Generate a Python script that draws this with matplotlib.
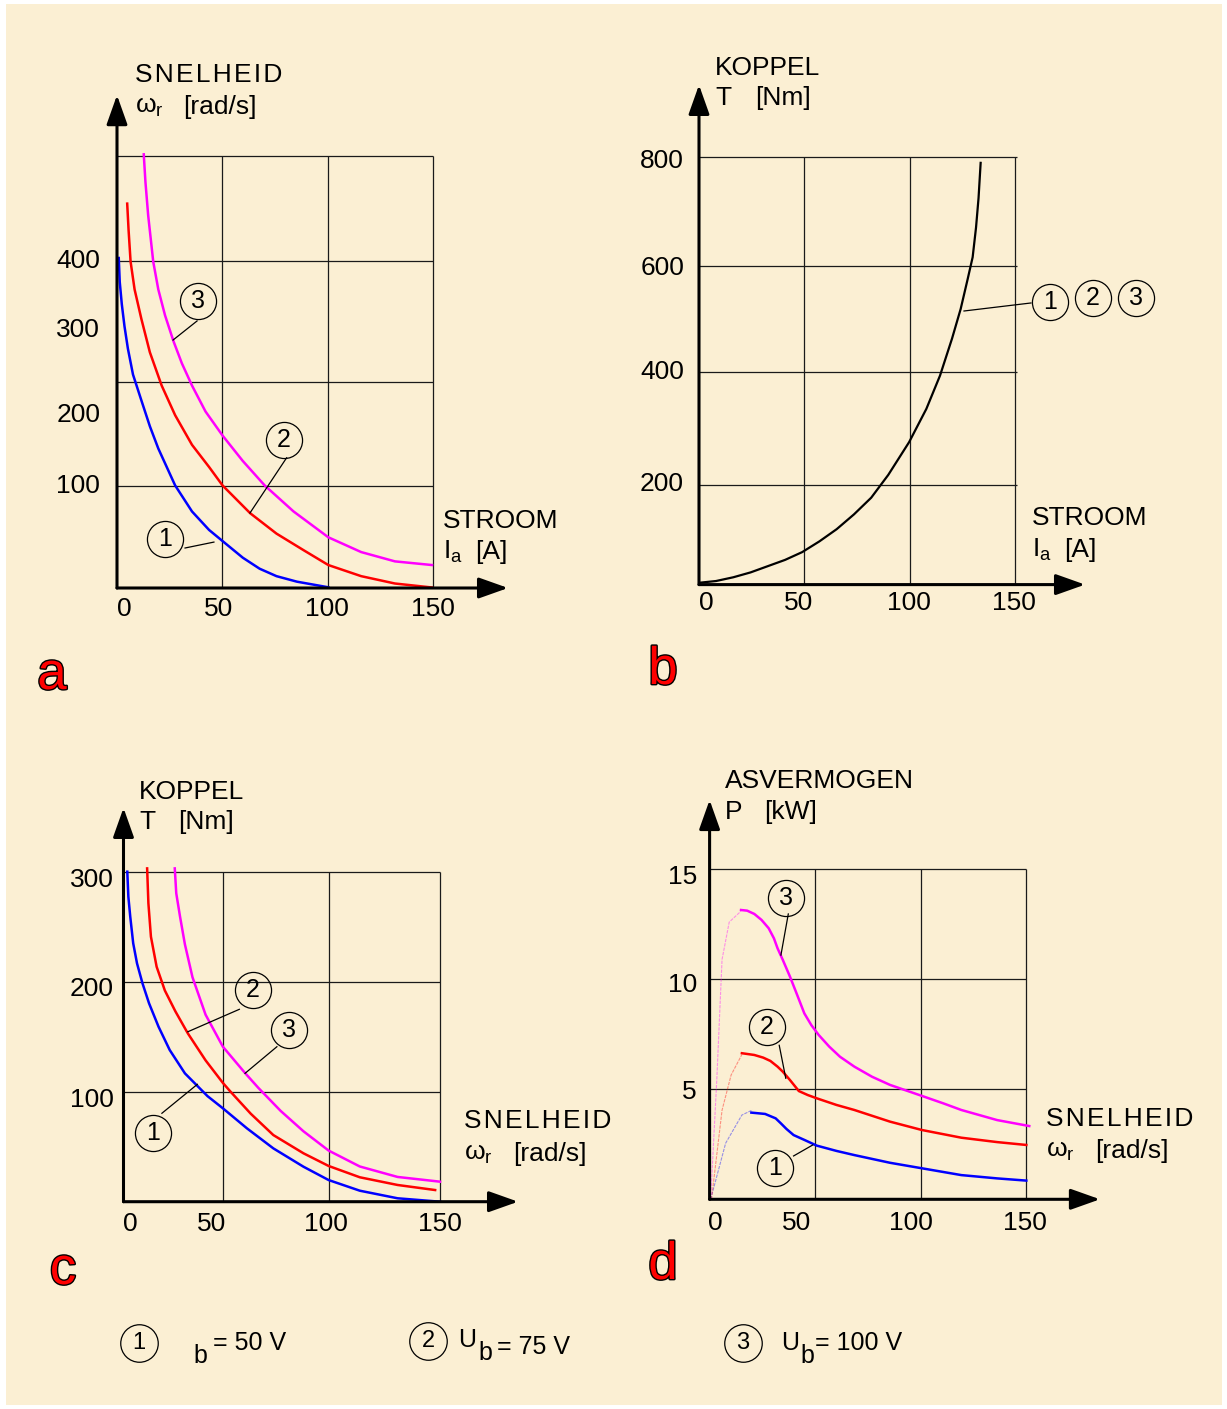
import matplotlib.pyplot as plt
from matplotlib import patheffects
from matplotlib.patches import Rectangle

plt.rcParams['font.family'] = ['Liberation Sans', 'DejaVu Sans']
plt.rcParams['mathtext.fontset'] = 'custom'
plt.rcParams['mathtext.rm'] = 'Liberation Sans'
plt.rcParams['mathtext.it'] = 'Liberation Sans:italic'
plt.rcParams['mathtext.default'] = 'regular'

# ---------------- data ----------------
# a: speed vs armature current (the y scale of the original is not linear,
#    values are in "drawing units" where the 100-gridline sits at 100)
a_I1 = [0.83, 1.3, 2.28, 3.56, 5.17, 7.59, 11.58, 15.6, 19.6, 27.6, 35.6, 43.7, 50.1,
        59.7, 67.7, 75.7, 85.4, 100.3]
a_w1 = [323.4, 299.9, 278.1, 256.4, 234.6, 209.2, 183.8, 158.5, 136.7, 100.5, 75, 56.9, 46,
        29.7, 18.9, 11.6, 6.2, 0.7]
a_I2 = [4.84, 5.5, 6.45, 8.35, 11.58, 15.6, 21.2, 27.6, 35.6, 43.7, 50.1, 63.2, 75.7,
        88.6, 100.3, 115.9, 131.9, 149.5]
a_w2 = [376.7, 350.6, 319.8, 292.6, 263.6, 231, 198.4, 169.3, 140.3, 118.6, 100.5, 73.3, 53.3,
        37, 22.5, 11.6, 4.4, 0.5]
a_I3 = [12.7, 13.5, 14.8, 17.2, 19.6, 22.8, 26.8, 30.8, 35.6, 42, 50.1, 59.7, 70.1, 83.8,
        100.3, 115.9, 131.9, 149.5]
a_w3 = [425, 397.8, 365.1, 319.8, 292.6, 267.2, 241.9, 220.1, 198.4, 173, 149.4, 124.5, 100.5, 75,
        49.7, 35.2, 26.1, 22.5]
a_ygrid = [100, 202, 320.5, 423.4]
a_ytick_pos = [320.5, 252.8, 169.5, 100]
a_ytick_lab = ['400', '300', '200', '100']

# b: torque vs armature current (same for 1, 2, 3)
b_I = [0, 8.1, 16.3, 24.5, 32.7, 40.9, 49, 57.2, 65.4, 73.6, 81.8, 89.9, 99.8, 108,
       114.5, 120.2, 124.3, 127.6, 130, 131.6, 132.8, 133.8]
b_T = [3.4, 6.7, 13.7, 22.8, 34.5, 46.2, 60.7, 80.8, 103.6, 131.2, 162.4, 205, 266.2, 328.4,
       390.7, 459.8, 515.1, 570.5, 612, 667.3, 722.6, 788.3]
b_ygrid = [187, 397, 595, 800]
b_ytick_pos = [792, 592, 397, 188]
b_ytick_lab = ['800', '600', '400', '200']

# c: torque vs speed
c_w1 = [1.8, 2.3, 3.2, 4.6, 6.4, 9, 12.1, 16.6, 21.9, 29.1, 39.8, 47.1, 58.5, 71, 85.3,
        97.2, 112, 129.9, 150]
c_T1 = [300, 277.3, 259.1, 234.9, 216.7, 198.5, 180.4, 159.1, 137.9, 116.7, 96, 84.9, 66.7,
        48.5, 31.8, 19.7, 10, 3.1, 0]
c_w2 = [11.2, 11.8, 13, 15.7, 19.6, 24.6, 30.5, 38.9, 47.1, 50.5, 60.3, 71, 85.3, 97.2, 112,
        129.9, 147.7]
c_T2 = [303, 271.3, 240.9, 213.6, 192, 173, 153, 128.5, 108, 100.5, 80, 60.6, 44, 32.5,
        22.2, 15.2, 10.6]
c_w3 = [24.3, 25, 26.8, 29.1, 32.7, 38.9, 47.1, 57.6, 63.9, 74.5, 85.3, 97.2, 112, 129.9, 150]
c_T3 = [303, 280.4, 259.1, 234, 204, 170, 140.9, 117, 103.5, 82.5, 64, 46.5, 32,
        22.5, 18.2]
c_xgrid = [47.1, 97.2, 150]
c_ytick_pos = [292.5, 193.4, 92.5]
c_ytick_lab = ['300', '200', '100']

# d: shaft power vs speed (thin rising part + solid part)
d_rise_w1 = [0.5, 7.6, 15.3, 20.3]
d_rise_P1 = [0, 2.55, 3.83, 4.06]
d_w1 = [19.8, 26.3, 31.3, 33.8, 36.4, 39.8, 44.9, 50.8, 60.1, 68.6, 85.5, 100.6, 119.3,
        136.3, 150.1]
d_P1 = [3.94, 3.88, 3.68, 3.45, 3.2, 2.92, 2.7, 2.44, 2.2, 2.01, 1.66, 1.41, 1.1, 0.95, 0.85]
d_rise_w2 = [0.9, 5.9, 10.2, 15.3]
d_rise_P2 = [0, 4.05, 5.65, 6.58]
d_w2 = [15.3, 21.2, 25.4, 28.8, 32.2, 34.7, 38.1, 42.3, 46.5, 50.8, 60.1, 68.6, 85.5, 100.6,
        119.3, 136.3, 150.1]
d_P2 = [6.64, 6.56, 6.44, 6.29, 6.03, 5.8, 5.42, 4.92, 4.74, 4.59, 4.29, 4.06, 3.53, 3.15,
        2.8, 2.6, 2.47]
d_rise_w3 = [0.5, 3.4, 5.9, 9.3, 14.9]
d_rise_P3 = [0, 5.42, 10.9, 12.6, 13.1]
d_w3 = [14.9, 17.8, 21.2, 24.6, 28, 30.5, 32.2, 34.7, 38.1, 41.5, 44.9, 48.2, 51.7, 56.7,
        61.8, 68.6, 77, 85.5, 100.6, 110.8, 119.3, 136.3, 151.5]
d_P3 = [13.15, 13.12, 12.97, 12.7, 12.32, 11.86, 11.41, 10.88, 10.12, 9.29, 8.45, 7.92, 7.47,
        6.94, 6.48, 6.03, 5.57, 5.2, 4.7, 4.36, 4.06, 3.6, 3.33]
d_ytick_pos = [14.65, 9.74, 4.88]
d_ytick_lab = ['15', '10', '5']

legend_lab = ['1', '2', '3']

BLUE, RED, MAG = '#0000FF', '#FF0000', '#FF00FF'
HS = '\u200a'  # hair space, the original titles are letter-spaced

W, H = 1227, 1409
fig = plt.figure(figsize=(W / 100, H / 100), dpi=100, facecolor='white')
fig.add_artist(Rectangle((6 / W, 4 / H), (W - 11) / W, (H - 8) / H, transform=fig.transFigure,
                         facecolor='#FBEFD3', edgecolor='none', zorder=-10))


def make_panel(ox, oy, sx, sy, w_px=400, h_px=500):
    # ox, oy = pixel of the origin, sx, sy = pixels per data unit
    ax = fig.add_axes([ox / W, 1 - oy / H, w_px / W, h_px / H])
    ax.set_xlim(0, w_px / sx)
    ax.set_ylim(0, h_px / sy)
    ax.axis('off')
    return ax


def arrows(ax, xtip, ytip):
    st = dict(arrowstyle='-|>,head_length=0.9,head_width=0.32', lw=2.2, color='black',
              shrinkA=0, shrinkB=0, mutation_scale=20)
    ax.annotate('', xy=(xtip, 0), xytext=(0, 0), arrowprops=st, annotation_clip=False)
    ax.annotate('', xy=(0, ytip), xytext=(0, 0), arrowprops=st, annotation_clip=False)


def grid(ax, xs, ys, xtop, yright):
    ax.vlines(xs, 0, xtop, color='#1a1a1a', lw=0.9)
    ax.hlines(ys, 0, yright, color='#1a1a1a', lw=0.9)


def ticks(ax, xpos, xlab, xy, ypos, ylab, yx):
    for p, s in zip(xpos, xlab):
        ax.text(p, xy, s, ha='center', va='center', fontsize=19, clip_on=False)
    for p, s in zip(ypos, ylab):
        ax.text(yx, p, s, ha='right', va='center', fontsize=19, clip_on=False)


def tag(ax, x, y, s, x1, y1, x2, y2):
    ax.plot([x1, x2], [y1, y2], color='black', lw=0.9, clip_on=False)
    ax.plot(x, y, 'o', ms=26, mfc='none', mec='black', mew=0.9, clip_on=False)
    ax.text(x, y, s, ha='center', va='center', fontsize=18, clip_on=False)


# overlay in pixel coordinates for titles, letters and the legend row
pix = fig.add_axes([0, 0, 1, 1], zorder=5)
pix.set_xlim(0, W)
pix.set_ylim(H, 0)
pix.axis('off')


def ptxt(x, y, s, fs=19, **kw):
    pix.text(x, y, s, ha='left', va='center', fontsize=fs, **kw)


# ---------------- panel a ----------------
ax = make_panel(117, 588, 2.107, 1.0204)
grid(ax, [50, 100, 150], a_ygrid, 423.4, 150)
ax.plot(a_I1, a_w1, color=BLUE, lw=1.8)
ax.plot(a_I2, a_w2, color=RED, lw=1.8)
ax.plot(a_I3, a_w3, color=MAG, lw=1.8)
arrows(ax, 185.6, 483)
ticks(ax, [3.3, 48.4, 99.7, 150], ['0', '50', '100', '150'], -20.6, a_ytick_pos, a_ytick_lab, -8)
tag(ax, 38.4, 281.3, '3', 38, 261.7, 26.6, 243)
tag(ax, 79.3, 145, '2', 80.5, 127.6, 63.1, 73.5)
tag(ax, 22.8, 48, '1', 32.3, 39.2, 46, 45)

# ---------------- panel b ----------------
ax = make_panel(699, 584.6, 2.105, 0.535, 400, 510)
grid(ax, [50, 100, 150], b_ygrid, 800, 151)
ax.plot(b_I, b_T, color='black', lw=1.6)
arrows(ax, 183.4, 934)
ticks(ax, [3.3, 47.5, 99.8, 149.6], ['0', '50', '100', '150'], -34.4, b_ytick_pos, b_ytick_lab, -7.1)
ax.plot([125.9, 157.7], [511.4, 526.4], color='black', lw=0.9)
for xx, yy, s in zip([166.7, 187.2, 207.6], [528, 535.7, 535.7], legend_lab):
    ax.plot(xx, yy, 'o', ms=26, mfc='none', mec='black', mew=0.9, clip_on=False)
    ax.text(xx, yy, s, ha='center', va='center', fontsize=18, clip_on=False)

# ---------------- panel c ----------------
ax = make_panel(123.5, 1201.7, 2.11, 1.1, 400, 410)
grid(ax, c_xgrid, [100, 200, 300], 300, 150)
ax.plot(c_w1, c_T1, color=BLUE, lw=1.8)
ax.plot(c_w2, c_T2, color=RED, lw=1.8)
ax.plot(c_w3, c_T3, color=MAG, lw=1.8)
arrows(ax, 187, 358)
ticks(ax, [3.1, 41.9, 96, 150], ['0', '50', '100', '150'], -20.3, c_ytick_pos, c_ytick_lab, -4.5)
tag(ax, 61.4, 192.5, '2', 54.9, 174.9, 30.5, 154.5)
tag(ax, 78.2, 156, '3', 72.7, 140.9, 57.6, 116.7)
tag(ax, 13.9, 62.2, '1', 18.2, 80.4, 35, 106.7)

# ---------------- panel d ----------------
ax = make_panel(709.6, 1199.3, 2.11, 22, 400, 420)
grid(ax, [50, 100, 150], [5, 10, 15], 15, 150)
ax.plot(d_rise_w1, d_rise_P1, color=BLUE, lw=0.8, alpha=0.4, ls=(0, (3, 1)))
ax.plot(d_rise_w2, d_rise_P2, color=RED, lw=0.8, alpha=0.4, ls=(0, (3, 1)))
ax.plot(d_rise_w3, d_rise_P3, color=MAG, lw=0.8, alpha=0.4, ls=(0, (3, 1)))
ax.plot(d_w1, d_P1, color=BLUE, lw=1.8)
ax.plot(d_w2, d_P2, color=RED, lw=1.8)
ax.plot(d_w3, d_P3, color=MAG, lw=1.8)
arrows(ax, 185, 18.15)
ticks(ax, [2.6, 41.4, 95.4, 149.5], ['0', '50', '100', '150'], -1.08, d_ytick_pos, d_ytick_lab, -6)
tag(ax, 36.2, 13.7, '3', 37.3, 12.97, 33.8, 11.1)
tag(ax, 27.1, 7.85, '2', 33, 7.0, 36.1, 5.5)
tag(ax, 31, 1.41, '1', 39.8, 1.97, 48.9, 2.47)

# ---------------- axis titles ----------------
snel = HS.join('SNELHEID')
ptxt(135, 75, snel)
ptxt(135, 107, 'ω$_r$')
ptxt(183, 107, '[rad/s]')
ptxt(443, 521, 'STROOM')
ptxt(443, 552, 'I$_a$')
ptxt(475, 552, '[A]')

ptxt(715, 68, 'KOPPEL')
ptxt(715, 98, 'T')
ptxt(755, 98, '[Nm]')
ptxt(1032, 518, 'STROOM')
ptxt(1032, 550, 'I$_a$')
ptxt(1064, 550, '[A]')

ptxt(139, 792, 'KOPPEL')
ptxt(139, 822, 'T')
ptxt(178, 822, '[Nm]')
ptxt(464, 1121, snel)
ptxt(464, 1154, 'ω$_r$')
ptxt(513, 1154, '[rad/s]')

ptxt(725, 781, 'ASVERMOGEN')
ptxt(725, 812, 'P')
ptxt(764, 812, '[kW]')
ptxt(1046, 1119, snel)
ptxt(1046, 1151, 'ω$_r$')
ptxt(1095, 1151, '[rad/s]')

# panel letters, red with a black outline
for xx, yy, s in [(52, 675, 'a'), (663, 670, 'b'), (63, 1270, 'c'), (663, 1265, 'd')]:
    pix.text(xx, yy, s, ha='center', va='center', fontsize=38, color='red',
             path_effects=[patheffects.withStroke(linewidth=2, foreground='black')])

# ---------------- legend row ----------------
for xx, yy, s in zip([139, 428, 743], [1343, 1341, 1343], legend_lab):
    pix.plot(xx, yy, 'o', ms=27, mfc='none', mec='black', mew=0.9)
    pix.text(xx, yy, s, ha='center', va='center', fontsize=17)
ptxt(193, 1356, 'b', fs=18)
ptxt(213, 1343, '= 50 V', fs=18)
ptxt(458, 1340, 'U', fs=18)
ptxt(478, 1353, 'b', fs=18)
ptxt(497, 1347, '= 75 V', fs=18)
ptxt(781, 1343, 'U', fs=18)
ptxt(800, 1356, 'b', fs=18)
ptxt(815, 1343, '= 100 V', fs=18)

fig.savefig('out.png', dpi=100, facecolor=fig.get_facecolor())
